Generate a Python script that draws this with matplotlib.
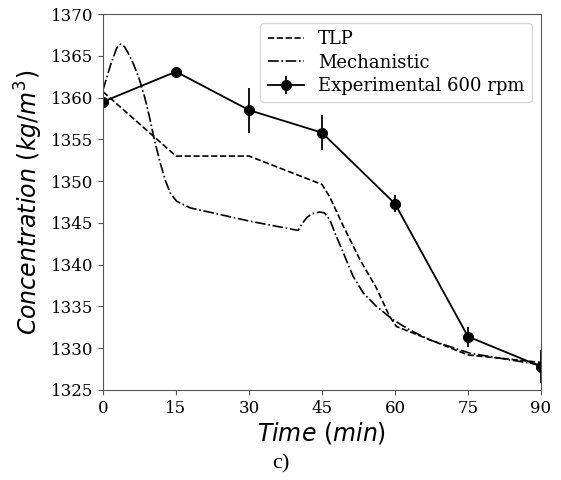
import matplotlib
matplotlib.use('Agg')
import matplotlib.pyplot as plt

# experimental points (600 rpm)
exp_t = [0, 15, 30, 45, 60, 75, 90]
exp_c = [1359.5, 1363.1, 1358.5, 1355.8, 1347.3, 1331.4, 1327.8]
exp_err = [0.4, 0.0, 2.7, 2.1, 1.0, 1.2, 2.0]

# TLP model
tlp_t = [0, 15, 30, 45, 46.6, 49.4, 52.8, 56.2, 58.9, 60.3, 75, 90]
tlp_c = [1360.7, 1353.0, 1353.0, 1349.6, 1348.1, 1344.6, 1340.6, 1337.2, 1333.8,
         1332.6, 1329.2, 1328.3]

# mechanistic model
mech_t = [0, 1.5, 2.8, 3.6, 4.4, 5.2, 6.2, 7.4, 8.5, 9.5, 10.5, 11.7, 12.8, 13.8,
          15.1, 17.9, 30.2, 40.1, 41.0, 42.0, 43.0, 44.5, 45.5, 46.6, 47.8, 49.4,
          51.4, 53.5, 56.2, 59.6, 63.0, 67.1, 75.4, 90]
mech_c = [1360.9, 1363.8, 1365.9, 1366.4, 1366.1, 1365.3, 1364.1, 1362.3, 1360.2,
          1357.8, 1355.1, 1352.3, 1350.1, 1348.6, 1347.6, 1346.8, 1345.2, 1344.1,
          1345.0, 1345.7, 1346.1, 1346.3, 1346.2, 1345.4, 1343.6, 1341.4, 1338.6,
          1336.6, 1335.0, 1333.4, 1332.2, 1331.0, 1329.4, 1328.0]

plt.rcParams['font.family'] = 'DejaVu Serif'
plt.rcParams['mathtext.fontset'] = 'dejavusans'

fig = plt.figure(figsize=(5.61, 4.8), dpi=100)
ax = fig.add_axes([0.1836, 0.1875, 0.7807, 0.7833])

ax.plot(tlp_t, tlp_c, '--', color='black', linewidth=1.2, label='TLP')
ax.plot(mech_t, mech_c, '-.', color='black', linewidth=1.2, label='Mechanistic')
ax.errorbar(exp_t, exp_c, yerr=exp_err, fmt='-o', color='black', markersize=7,
            linewidth=1.3, elinewidth=1.3, label='Experimental 600 rpm')

ax.set_xlim(0, 90)
ax.set_ylim(1325, 1370)
ax.set_xticks(range(0, 91, 15))
ax.set_yticks(range(1325, 1371, 5))
ax.tick_params(labelsize=12, color='#555555')
for s in ax.spines.values():
    s.set_color('#555555')

ax.set_xlabel(r'$Time\ (min)$', fontsize=17, labelpad=2)
ax.set_ylabel(r'$Concentration\ (kg/m^3)$', fontsize=17, labelpad=4)

ax.legend(loc='upper right', fontsize=13, handlelength=2.0,
          borderaxespad=0.5, labelspacing=0.3)

fig.text(0.5, 1 - 464 / 480, 'c)', ha='center', va='center', fontsize=16,
         family='Liberation Serif')

fig.savefig('out.png', dpi=100)
